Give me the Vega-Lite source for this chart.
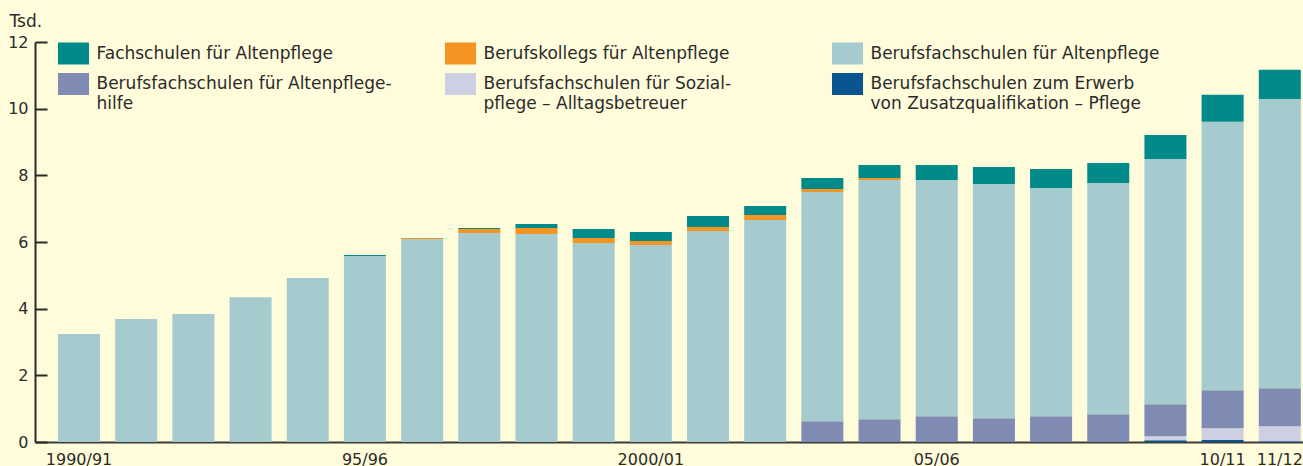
{
  "$schema": "https://vega.github.io/schema/vega-lite/v6.json",
  "autosize": {"type": "none"},
  "padding": {"left": 35, "top": 42, "right": 0, "bottom": 24},
  "width": 1268,
  "height": 400,
  "background": "#fffcdb",
  "config": {
    "view": {"stroke": null},
    "font": "DejaVu Sans",
    "axis": {"labelFont": "DejaVu Sans", "titleFont": "DejaVu Sans", "labelColor": "#2b2b2b", "titleColor": "#2b2b2b"},
    "legend": {"labelFont": "DejaVu Sans"}
  },
  "data": {
    "values": [
      {"jahr": "1990/91", "schulart": "Berufsfachschulen für Altenpflege", "anzahl": 3.24},
      {"jahr": "1991/92", "schulart": "Berufsfachschulen für Altenpflege", "anzahl": 3.69},
      {"jahr": "1992/93", "schulart": "Berufsfachschulen für Altenpflege", "anzahl": 3.84},
      {"jahr": "1993/94", "schulart": "Berufsfachschulen für Altenpflege", "anzahl": 4.34},
      {"jahr": "1994/95", "schulart": "Berufsfachschulen für Altenpflege", "anzahl": 4.92},
      {"jahr": "1995/96", "schulart": "Berufsfachschulen für Altenpflege", "anzahl": 5.58},
      {"jahr": "1995/96", "schulart": "Fachschulen für Altenpflege", "anzahl": 0.03},
      {"jahr": "1996/97", "schulart": "Berufsfachschulen für Altenpflege", "anzahl": 6.09},
      {"jahr": "1996/97", "schulart": "Berufskollegs für Altenpflege", "anzahl": 0.03},
      {"jahr": "1997/98", "schulart": "Berufsfachschulen für Altenpflege", "anzahl": 6.27},
      {"jahr": "1997/98", "schulart": "Berufskollegs für Altenpflege", "anzahl": 0.12},
      {"jahr": "1997/98", "schulart": "Fachschulen für Altenpflege", "anzahl": 0.03},
      {"jahr": "1998/99", "schulart": "Berufsfachschulen für Altenpflege", "anzahl": 6.24},
      {"jahr": "1998/99", "schulart": "Berufskollegs für Altenpflege", "anzahl": 0.18},
      {"jahr": "1998/99", "schulart": "Fachschulen für Altenpflege", "anzahl": 0.12},
      {"jahr": "1999/2000", "schulart": "Berufsfachschulen für Altenpflege", "anzahl": 5.97},
      {"jahr": "1999/2000", "schulart": "Berufskollegs für Altenpflege", "anzahl": 0.15},
      {"jahr": "1999/2000", "schulart": "Fachschulen für Altenpflege", "anzahl": 0.27},
      {"jahr": "2000/01", "schulart": "Berufsfachschulen für Altenpflege", "anzahl": 5.91},
      {"jahr": "2000/01", "schulart": "Berufskollegs für Altenpflege", "anzahl": 0.12},
      {"jahr": "2000/01", "schulart": "Fachschulen für Altenpflege", "anzahl": 0.27},
      {"jahr": "2001/02", "schulart": "Berufsfachschulen für Altenpflege", "anzahl": 6.33},
      {"jahr": "2001/02", "schulart": "Berufskollegs für Altenpflege", "anzahl": 0.12},
      {"jahr": "2001/02", "schulart": "Fachschulen für Altenpflege", "anzahl": 0.33},
      {"jahr": "2002/03", "schulart": "Berufsfachschulen für Altenpflege", "anzahl": 6.66},
      {"jahr": "2002/03", "schulart": "Berufskollegs für Altenpflege", "anzahl": 0.15},
      {"jahr": "2002/03", "schulart": "Fachschulen für Altenpflege", "anzahl": 0.27},
      {"jahr": "2003/04", "schulart": "Berufsfachschulen für Altenpflegehilfe", "anzahl": 0.62},
      {"jahr": "2003/04", "schulart": "Berufsfachschulen für Altenpflege", "anzahl": 6.88},
      {"jahr": "2003/04", "schulart": "Berufskollegs für Altenpflege", "anzahl": 0.09},
      {"jahr": "2003/04", "schulart": "Fachschulen für Altenpflege", "anzahl": 0.33},
      {"jahr": "2004/05", "schulart": "Berufsfachschulen für Altenpflegehilfe", "anzahl": 0.68},
      {"jahr": "2004/05", "schulart": "Berufsfachschulen für Altenpflege", "anzahl": 7.18},
      {"jahr": "2004/05", "schulart": "Berufskollegs für Altenpflege", "anzahl": 0.06},
      {"jahr": "2004/05", "schulart": "Fachschulen für Altenpflege", "anzahl": 0.39},
      {"jahr": "2005/06", "schulart": "Berufsfachschulen für Altenpflegehilfe", "anzahl": 0.77},
      {"jahr": "2005/06", "schulart": "Berufsfachschulen für Altenpflege", "anzahl": 7.09},
      {"jahr": "2005/06", "schulart": "Fachschulen für Altenpflege", "anzahl": 0.45},
      {"jahr": "2006/07", "schulart": "Berufsfachschulen für Altenpflegehilfe", "anzahl": 0.71},
      {"jahr": "2006/07", "schulart": "Berufsfachschulen für Altenpflege", "anzahl": 7.03},
      {"jahr": "2006/07", "schulart": "Fachschulen für Altenpflege", "anzahl": 0.51},
      {"jahr": "2007/08", "schulart": "Berufsfachschulen für Altenpflegehilfe", "anzahl": 0.77},
      {"jahr": "2007/08", "schulart": "Berufsfachschulen für Altenpflege", "anzahl": 6.85},
      {"jahr": "2007/08", "schulart": "Fachschulen für Altenpflege", "anzahl": 0.57},
      {"jahr": "2008/09", "schulart": "Berufsfachschulen für Altenpflegehilfe", "anzahl": 0.83},
      {"jahr": "2008/09", "schulart": "Berufsfachschulen für Altenpflege", "anzahl": 6.94},
      {"jahr": "2008/09", "schulart": "Fachschulen für Altenpflege", "anzahl": 0.60},
      {"jahr": "2009/10", "schulart": "Berufsfachschulen zum Erwerb von Zusatzqualifikation – Pflege", "anzahl": 0.05},
      {"jahr": "2009/10", "schulart": "Berufsfachschulen für Sozialpflege – Alltagsbetreuer", "anzahl": 0.12},
      {"jahr": "2009/10", "schulart": "Berufsfachschulen für Altenpflegehilfe", "anzahl": 0.96},
      {"jahr": "2009/10", "schulart": "Berufsfachschulen für Altenpflege", "anzahl": 7.36},
      {"jahr": "2009/10", "schulart": "Fachschulen für Altenpflege", "anzahl": 0.72},
      {"jahr": "2010/11", "schulart": "Berufsfachschulen zum Erwerb von Zusatzqualifikation – Pflege", "anzahl": 0.06},
      {"jahr": "2010/11", "schulart": "Berufsfachschulen für Sozialpflege – Alltagsbetreuer", "anzahl": 0.35},
      {"jahr": "2010/11", "schulart": "Berufsfachschulen für Altenpflegehilfe", "anzahl": 1.14},
      {"jahr": "2010/11", "schulart": "Berufsfachschulen für Altenpflege", "anzahl": 8.06},
      {"jahr": "2010/11", "schulart": "Fachschulen für Altenpflege", "anzahl": 0.81},
      {"jahr": "2011/12", "schulart": "Berufsfachschulen zum Erwerb von Zusatzqualifikation – Pflege", "anzahl": 0.02},
      {"jahr": "2011/12", "schulart": "Berufsfachschulen für Sozialpflege – Alltagsbetreuer", "anzahl": 0.45},
      {"jahr": "2011/12", "schulart": "Berufsfachschulen für Altenpflegehilfe", "anzahl": 1.14},
      {"jahr": "2011/12", "schulart": "Berufsfachschulen für Altenpflege", "anzahl": 8.68},
      {"jahr": "2011/12", "schulart": "Fachschulen für Altenpflege", "anzahl": 0.88}
    ]
  },
  "transform": [
    {"calculate": "indexof(['Berufsfachschulen zum Erwerb von Zusatzqualifikation – Pflege', 'Berufsfachschulen für Sozialpflege – Alltagsbetreuer', 'Berufsfachschulen für Altenpflegehilfe', 'Berufsfachschulen für Altenpflege', 'Berufskollegs für Altenpflege', 'Fachschulen für Altenpflege'], datum.schulart)", "as": "stapelfolge"}
  ],
  "mark": {"type": "bar", "strokeWidth": 0},
  "encoding": {
    "x": {
      "field": "jahr",
      "type": "ordinal",
      "sort": null,
      "scale": {"paddingInner": 0.265, "paddingOuter": 0.2205, "align": 0.913},
      "axis": {
        "title": null,
        "ticks": false,
        "domainColor": "#3c3c3c",
        "domainWidth": 2,
        "labelAngle": 0,
        "labelFontSize": 16,
        "labelPadding": 9,
        "labelExpr": "datum.value == '1990/91' || datum.value == '2000/01' ? datum.value : (datum.value == '1995/96' || datum.value == '2005/06' || datum.value == '2010/11' || datum.value == '2011/12' ? slice(datum.value, 2) : '')"
      }
    },
    "y": {
      "field": "anzahl",
      "type": "quantitative",
      "stack": "zero",
      "scale": {"domain": [0, 12], "nice": false},
      "axis": {
        "values": [0, 2, 4, 6, 8, 10, 12],
        "grid": false,
        "title": "Tsd.",
        "titleAngle": 0,
        "titleAlign": "left",
        "titleBaseline": "alphabetic",
        "titleX": -26,
        "titleY": -16,
        "titleFontSize": 17,
        "titleFontWeight": "normal",
        "domainColor": "#2b2b2b",
        "domainWidth": 2,
        "tickColor": "#2b2b2b",
        "tickWidth": 2,
        "tickSize": -12,
        "labelPadding": 19,
        "labelFontSize": 16
      }
    },
    "order": {"field": "stapelfolge", "type": "quantitative", "sort": "ascending"},
    "color": {
      "field": "schulart",
      "type": "nominal",
      "scale": {
        "domain": [
          "Fachschulen für Altenpflege",
          "Berufskollegs für Altenpflege",
          "Berufsfachschulen für Altenpflege",
          "Berufsfachschulen für Altenpflegehilfe",
          "Berufsfachschulen für Sozialpflege – Alltagsbetreuer",
          "Berufsfachschulen zum Erwerb von Zusatzqualifikation – Pflege"
        ],
        "range": ["#008b8a", "#f39423", "#a6cbcf", "#7f8bb3", "#cdd0e2", "#0a5590"]
      },
      "legend": {
        "title": null,
        "orient": "none",
        "legendX": 27.5,
        "legendY": -8,
        "columns": 3,
        "direction": "horizontal",
        "gridAlign": "all",
        "columnPadding": 52,
        "rowPadding": -16,
        "padding": 0,
        "symbolType": "M-1.41,-1H1.41V1H-1.41Z",
        "symbolSize": 484,
        "symbolStrokeWidth": 0,
        "symbolOpacity": 1,
        "labelFontSize": 17,
        "labelColor": "#2b2b2b",
        "labelLimit": 0,
        "labelOffset": 12,
        "labelBaseline": "alphabetic",
        "labelExpr": "datum.label == 'Berufsfachschulen für Altenpflegehilfe' ? ['Berufsfachschulen für Altenpflege-', 'hilfe'] : datum.label == 'Berufsfachschulen für Sozialpflege – Alltagsbetreuer' ? ['Berufsfachschulen für Sozial-', 'pflege – Alltagsbetreuer'] : datum.label == 'Berufsfachschulen zum Erwerb von Zusatzqualifikation – Pflege' ? ['Berufsfachschulen zum Erwerb', 'von Zusatzqualifikation – Pflege'] : datum.label",
        "encode": {"labels": {"update": {"dy": {"value": 5}, "lineHeight": {"value": 19.5}}}}
      }
    }
  }
}
